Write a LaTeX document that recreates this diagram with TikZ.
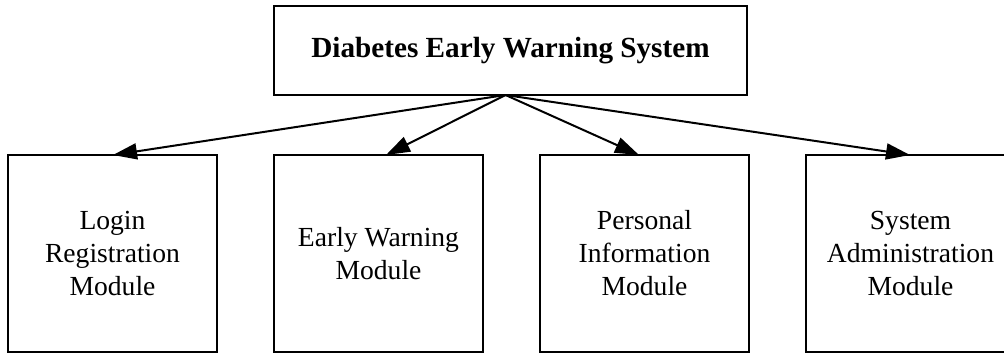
\documentclass[tikz,border=0pt]{standalone}
\usepackage{fontspec}
\setmainfont{Liberation Serif}
\usetikzlibrary{arrows.meta}
\begin{document}
\begin{tikzpicture}[x=1pt,y=-1pt,
  box/.style={draw, line width=2pt, inner sep=0pt, outer sep=0pt, align=center,
    minimum width=209pt, minimum height=197pt, font=\fontsize{27.6}{33}\selectfont},
  topbox/.style={draw, line width=2pt, inner sep=0pt, outer sep=0pt, align=center,
    minimum width=473pt, minimum height=89pt, font=\fontsize{29.2}{34}\selectfont\bfseries},
  arr/.style={line width=2pt, -{Triangle[length=24pt,width=16pt]}}]
\useasboundingbox (0,0) rectangle (1004,354);
\clip (0,0) rectangle (1004,354);
\node[topbox] (top) at (510.5,50.5) {Diabetes Early Warning System};
\node[box] (b1) at (112.5,253.5) {Login\\Registration\\Module};
\node[box] (b2) at (378.5,253.5) {Early Warning\\Module};
\node[box] (b3) at (644.5,253.5) {Personal\\Information\\Module};
\node[box] (b4) at (910.5,253.5) {System\\Administration\\Module};
\coordinate (src) at ([xshift=-5pt]top.south);
\draw[arr] (src) -- ([xshift=0.5pt]b1.north);
\draw[arr] (src) -- ([xshift=7.5pt]b2.north);
\draw[arr] (src) -- ([xshift=-5.5pt]b3.north);
\draw[arr] (src) -- ([xshift=-0.5pt]b4.north);
\end{tikzpicture}
\end{document}
